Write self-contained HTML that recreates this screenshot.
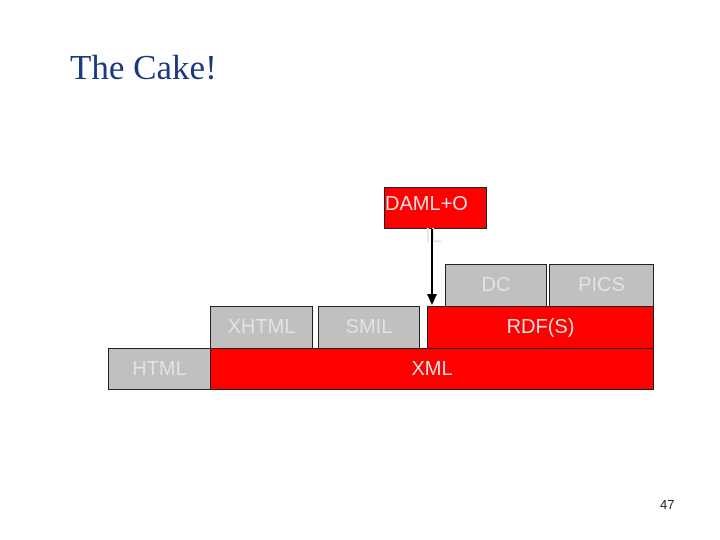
<!DOCTYPE html>
<html><head><style>
body{margin:0;width:720px;height:540px;background:#fff;position:relative;overflow:hidden;font-family:"Liberation Sans",Arial,sans-serif}
.b{position:absolute;box-sizing:border-box;border:1px solid #222;display:flex;align-items:center;justify-content:center;font-size:20px;color:#e2e2e2}
.g{background:#c0c0c0}.r{background:#ff0000}
.t{position:absolute;font-size:20px;color:#e2e2e2;white-space:nowrap}
</style></head><body>
<div style="position:absolute;left:70px;top:48px;font-family:'Liberation Serif',serif;font-size:35px;color:#1a3a80">The Cake!</div>
<div class="b r" style="left:384px;top:187px;width:103px;height:42px"></div>
<div class="t" style="left:385px;top:193px;color:#f4dede">DAML+O</div>
<div class="t" style="left:425px;top:225px">IL</div>
<div class="b g" style="left:445px;top:264px;width:102px;height:43px">DC</div>
<div class="b g" style="left:549px;top:264px;width:105px;height:43px">PICS</div>
<div class="b g" style="left:210px;top:306px;width:103px;height:43px">XHTML</div>
<div class="b g" style="left:318px;top:306px;width:102px;height:43px">SMIL</div>
<div class="b r" style="left:427px;top:306px;width:227px;height:43px">RDF(S)</div>
<div class="b g" style="left:108px;top:348px;width:103px;height:42px">HTML</div>
<div class="b r" style="left:210px;top:348px;width:444px;height:42px">XML</div>
<svg style="position:absolute;left:0;top:0" width="720" height="540">
<line x1="432" y1="229" x2="432" y2="296" stroke="#000" stroke-width="2"/>
<polygon points="427,294 437,294 432,305" fill="#000"/>
</svg>
<div style="position:absolute;left:660px;top:497px;font-size:13px;color:#222">47</div>
</body></html>
